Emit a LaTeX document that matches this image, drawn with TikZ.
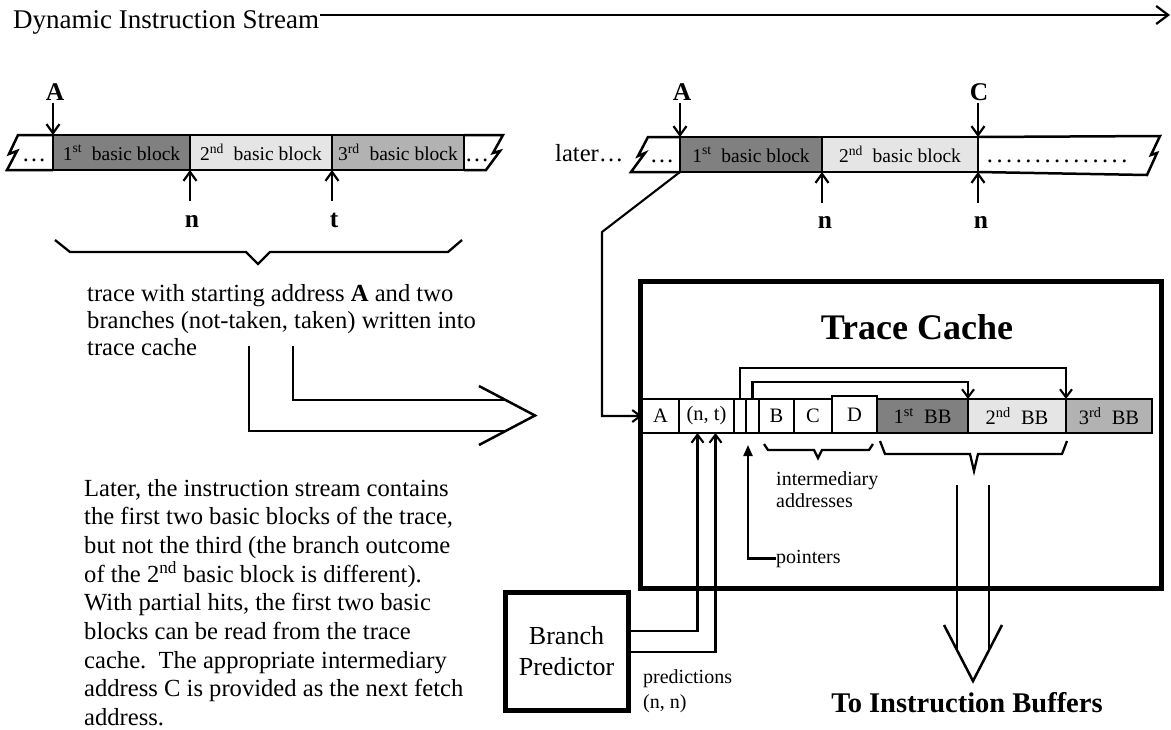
\documentclass[tikz,border=0pt]{standalone}
\usepackage{fontspec}
\setmainfont{Liberation Serif}
\usetikzlibrary{arrows.meta}
\definecolor{bbdark}{gray}{0.5}
\definecolor{bblight}{gray}{0.9}
\definecolor{bbmid}{gray}{0.7}
\newcommand{\fsz}[2]{\fontsize{#1}{#2}\selectfont}
\newcommand{\densedots}[1]{\makebox[#1]{\leaders\hbox to 9.6pt{\hss.\hss}\hfill}}

\begin{document}
\begin{tikzpicture}[x=1pt,y=-1pt,
  arr/.style={-{Straight Barb[length=9pt,width=13pt]}, line width=2.2pt},
  parr/.style={-{Straight Barb[length=8pt,width=12pt]}, line width=2.1pt},
  bar/.style={line width=2.5pt, line join=miter},
  blk/.style={draw, line width=2.5pt, inner sep=0pt, outer sep=0pt, minimum height=35pt, font=\fsz{19.5}{22}},
  cell/.style={draw, line width=2.2pt, fill=white, inner sep=0pt, outer sep=0pt, minimum height=34pt, font=\fsz{20.5}{24}},
  lbl/.style={font=\bfseries\fsz{25.5}{28}, inner sep=0pt, anchor=base},
  body/.style={font=\fsz{24.6}{28.8}, inner sep=0pt, anchor=base west},
  small/.style={font=\fsz{20}{24}, inner sep=0pt, anchor=base west},
  dots/.style={font=\fsz{24.4}{28.8}, inner sep=0pt, anchor=base},
  hollow/.style={line width=2.5pt},
  brace/.style={line width=2.3pt},
  heavy/.style={draw, line width=5pt, inner sep=0pt},
]
\useasboundingbox (0,0) rectangle (1171,729);

% ---------- title and time axis ----------
\node[font=\fsz{27}{32}, inner sep=1pt, anchor=base west] (title) at (12,28) {Dynamic Instruction Stream};
\coordinate (streamend) at (1170,15);
\draw[line width=2.2pt, -{Straight Barb[length=12pt,width=18pt]}] (title.east |- streamend) -- (streamend);

% ---------- first pass of the stream ----------
\node[blk, fill=bbdark,  minimum width=137pt] (s1b1) at (121.5,152.5) {1\textsuperscript{st}~ basic block};
\node[blk, fill=bblight, minimum width=142pt] (s1b2) at (261,152.5)   {2\textsuperscript{nd}~ basic block};
\node[blk, fill=bbmid,   minimum width=132pt] (s1b3) at (398,152.5)   {3\textsuperscript{rd}~ basic block};
\draw[bar] (s1b1.north west) -- (18,135) -- (9,154) -- (17,151) -- (7,170) -- (s1b1.south west);
\draw[bar] (s1b3.north east) -- (503,135) -- (493,153) -- (500,151) -- (486,170) -- (s1b3.south east);
\node[dots] (s1dl) at (34,161) {\ldots};
\node[dots] (s1dr) at (477,161) {\ldots};

\node[lbl] (s1A) at (55,100) {A};
\coordinate (s1As) at (53,103);
\draw[arr] (s1As) -- (s1b1.north west);
\coordinate (s1ns) at (190,201);
\draw[arr] (s1ns) -- (s1b1.south east);
\node[lbl] (s1n) at (192,227) {n};
\coordinate (s1ts) at (332,201);
\draw[arr] (s1ts) -- (s1b2.south east);
\node[lbl] (s1t) at (334,227) {t};

\draw[brace] (55,240) -- (70,252) -- (246,252) -- (258,264) -- (270,252) -- (448,252) -- (462,240);

\node[body] (w1) at (87,301) {trace with starting address \textbf{A} and two};
\node[body] (w2) at (87,328) {branches (not-taken, taken) written into};
\node[body] (w3) at (87,355) {trace cache};

% hollow arrow: trace is written into the cache
\draw[hollow] (249,346) -- (249,431) -- (505.6,431);
\draw[hollow] (293,346) -- (293,400) -- (505.6,400);
\draw[hollow] (479,386) -- (535,415.5) -- (479,445);

% ---------- explanation ----------
\node[body] (low1) at (84,496)   {Later, the instruction stream contains};
\node[body] (low2) at (84,524.7) {the first two basic blocks of the trace,};
\node[body] (low3) at (84,553.4) {but not the third (the branch outcome};
\node[body] (low4) at (84,582.1) {of the 2\textsuperscript{nd} basic block is different).};
\node[body] (low5) at (84,610.8) {With partial hits, the first two basic};
\node[body] (low6) at (84,639.5) {blocks can be read from the trace};
\node[body] (low7) at (84,668.2) {cache.\ \ The appropriate intermediary};
\node[body] (low8) at (84,696.9) {address C is provided as the next fetch};
\node[body] (low9) at (84,725.6) {address.};

% ---------- later pass of the stream ----------
\node[body] (later) at (555,161) {later\ldots};
\node[blk, fill=bbdark,  minimum width=142pt] (s2b1) at (751,154.5) {1\textsuperscript{st}~ basic block};
\node[blk, fill=bblight, minimum width=156pt] (s2b2) at (900,154.5) {2\textsuperscript{nd}~ basic block};
\draw[bar] (s2b1.north west) -- (648,137) -- (638,156) -- (645,153) -- (631,172) -- (s2b1.south west);
\draw[bar] (s2b2.north east) -- (1160,136) -- (1151,155) -- (1157,153) -- (1147,175) -- (s2b2.south east);
\node[dots] (s2dl) at (662,162) {\ldots};
\node[font=\fsz{24.4}{28.8}, inner sep=0pt, anchor=base west] (s2dots) at (985,162) {\densedots{150pt}};

\node[lbl] (s2A) at (682,100) {A};
\coordinate (s2As) at (680,103);
\draw[arr] (s2As) -- (s2b1.north west);
\node[lbl] (s2C) at (979,100) {C};
\coordinate (s2Cs) at (978,103);
\draw[arr] (s2Cs) -- (s2b2.north east);
\coordinate (s2ns) at (822,203);
\draw[arr] (s2ns) -- (s2b1.south east);
\node[lbl] (s2n) at (825,228) {n};
\coordinate (s2ms) at (978,203);
\draw[arr] (s2ms) -- (s2b2.south east);
\node[lbl] (s2m) at (981,228) {n};

% ---------- trace cache ----------
\node[heavy, minimum width=520.5pt, minimum height=307pt] (tc) at (900.75,434.5) {};
\node[font=\bfseries\fsz{36}{40}, inner sep=0pt] (tctitle) at (917,327) {Trace Cache};

\node[cell, minimum width=37pt] (cA)   at (660.5,416) {A};
\node[cell, minimum width=55pt] (cNT)  at (706.5,416) {(n, t)};
\node[cell, minimum width=12pt] (cP1)  at (740,416)   {};
\node[cell, minimum width=13pt] (cP2)  at (752.5,416) {};
\node[cell, minimum width=35pt] (cB)   at (776.5,416) {B};
\node[cell, minimum width=38pt] (cC)   at (813,416)   {C};
\node[cell, minimum width=45pt, minimum height=37pt] (cD) at (854.5,414.5) {D};
\node[cell, fill=bbdark,  minimum width=91pt] (cBB1) at (922.5,416) {1\textsuperscript{st}~ BB};
\node[cell, fill=bblight, minimum width=98pt] (cBB2) at (1017,416)  {2\textsuperscript{nd}~ BB};
\node[cell, fill=bbmid,   minimum width=86pt] (cBB3) at (1109,416)  {3\textsuperscript{rd}~ BB};

\draw[parr] (cP1.north) -- ++(0,-31) -| (cBB2.north east);
\draw[parr] (cP2.north) -- ++(0,-17) -| (cBB1.north east);

\coordinate (bend) at (602,232);
\draw[parr] (s2b1.south west) -- (bend) |- (cA.west);

\draw[brace] (764,444) -- (768,450) -- (814,450) -- (818,458) -- (822,450) -- (869,450) -- (873,444);
\draw[brace] (880,441) -- (885,454) -- (970,454) -- (974,471) -- (978,454) -- (1062,454) -- (1067,441);
\node[small] (inter1) at (776,485) {intermediary};
\node[small] (inter2) at (776,507) {addresses};

\node[small] (ptrlbl) at (776,563) {pointers};
\coordinate (ptrtip) at (748,445);
\draw[line width=2.2pt, -{Triangle[length=11pt,width=9pt]}] (ptrlbl.west) -| (ptrtip);

% ---------- branch predictor ----------
\node[heavy, minimum width=123pt, minimum height=118pt, align=center, font=\fsz{26}{31}] (bp) at (566.5,651) {Branch\\Predictor};
\draw[parr] ([yshift=20pt]bp.east) -| ([xshift=-9pt]cNT.south);
\draw[parr] ([yshift=-1pt]bp.east) -| ([xshift=9pt]cNT.south);
\node[small] (pred1) at (643,683) {predictions};
\node[small] (pred2) at (643,708) {(n, n)};

% ---------- output ----------
\draw[hollow] (957,485) -- (957,650.5);
\draw[hollow] (989,485) -- (989,650.5);
\draw[hollow] (944,625) -- (973,681) -- (1002,625);
\node[font=\bfseries\fsz{28.5}{32}, inner sep=0pt, anchor=base] (tib) at (967,712) {To Instruction Buffers};
\end{tikzpicture}
\end{document}
